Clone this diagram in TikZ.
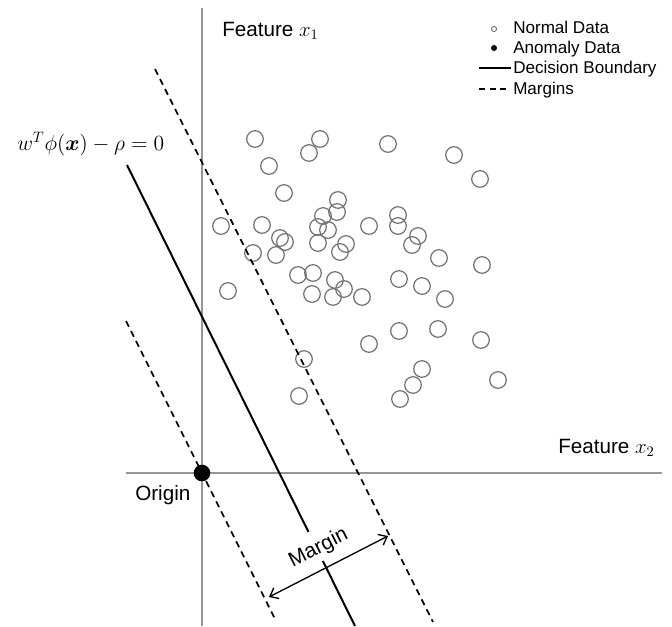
\RequirePackage{fix-cm}
\documentclass[tikz,border=0pt]{standalone}
\usepackage{amsmath}
\usepackage{amssymb}
\usepackage[no-math]{fontspec}
\setmainfont{Liberation Sans}
\usetikzlibrary{arrows.meta,calc}
\definecolor{axisgray}{RGB}{150,150,150}
\definecolor{datagray}{RGB}{115,115,115}
\tikzset{
  axisline/.style={axisgray, line width=1.1pt},
  datapt/.style={datagray, line width=0.9pt},
  boundary/.style={black, line width=1.5pt},
  marginline/.style={black, line width=1.3pt, dash pattern=on 4.8pt off 3.6pt},
  marginarrow/.style={black, line width=1pt, {Straight Barb[length=5.5pt,width=9pt]}-{Straight Barb[length=5.5pt,width=9pt]}},
  lbl/.style={font=\fontsize{15.5}{18}\selectfont, inner sep=0pt},
  legendtxt/.style={font=\fontsize{12.8}{15}\selectfont, inner sep=0pt, anchor=base west},
}
\begin{document}
\begin{tikzpicture}[x=0.75pt,y=-0.75pt]
    \useasboundingbox (0,0) rectangle (672,626);

    % axes
    \coordinate (x1top) at (202,8);
    \coordinate (x1bot) at (202,626);
    \coordinate (x2left) at (126,473);
    \coordinate (x2right) at (662,473);
    \draw [axisline] (x1top) -- (x1bot);
    \draw [axisline] (x2left) -- (x2right);

    % axis labels
    \node [lbl, anchor=base west] (featx1) at (222,36) {Feature $x_1$};
    \node [lbl, anchor=base west] (featx2) at (558,453) {Feature $x_2$};
    \node [lbl, anchor=base west] (originlbl) at (135,500) {Origin};
    \node [lbl, anchor=base west, font=\fontsize{16.2}{19}\selectfont] (eqn) at (17,150) {$w^T\phi(\boldsymbol{x})-\rho=0$};

    % normal data
    \draw [datapt] (255,139) circle [radius=8.3];
    \draw [datapt] (320,139) circle [radius=8.3];
    \draw [datapt] (309,153) circle [radius=8.3];
    \draw [datapt] (388,144) circle [radius=8.3];
    \draw [datapt] (454,155) circle [radius=8.3];
    \draw [datapt] (269,166) circle [radius=8.3];
    \draw [datapt] (480,179) circle [radius=8.3];
    \draw [datapt] (284,193) circle [radius=8.3];
    \draw [datapt] (338,200) circle [radius=8.3];
    \draw [datapt] (337,212) circle [radius=8.3];
    \draw [datapt] (323,216) circle [radius=8.3];
    \draw [datapt] (318,227) circle [radius=8.3];
    \draw [datapt] (328,230) circle [radius=8.3];
    \draw [datapt] (221,226) circle [radius=8.3];
    \draw [datapt] (262,225) circle [radius=8.3];
    \draw [datapt] (369,226) circle [radius=8.3];
    \draw [datapt] (398,215) circle [radius=8.3];
    \draw [datapt] (398,226) circle [radius=8.3];
    \draw [datapt] (418,236) circle [radius=8.3];
    \draw [datapt] (412,245) circle [radius=8.3];
    \draw [datapt] (280,238) circle [radius=8.3];
    \draw [datapt] (285,242) circle [radius=8.3];
    \draw [datapt] (318,243) circle [radius=8.3];
    \draw [datapt] (346,244) circle [radius=8.3];
    \draw [datapt] (340,252) circle [radius=8.3];
    \draw [datapt] (253,253) circle [radius=8.3];
    \draw [datapt] (276,255) circle [radius=8.3];
    \draw [datapt] (439,258) circle [radius=8.3];
    \draw [datapt] (482,265) circle [radius=8.3];
    \draw [datapt] (298,275) circle [radius=8.3];
    \draw [datapt] (313,273) circle [radius=8.3];
    \draw [datapt] (335,280) circle [radius=8.3];
    \draw [datapt] (399,279) circle [radius=8.3];
    \draw [datapt] (422,286) circle [radius=8.3];
    \draw [datapt] (228,291) circle [radius=8.3];
    \draw [datapt] (312,294) circle [radius=8.3];
    \draw [datapt] (344,289) circle [radius=8.3];
    \draw [datapt] (333,297) circle [radius=8.3];
    \draw [datapt] (362,297) circle [radius=8.3];
    \draw [datapt] (445,299) circle [radius=8.3];
    \draw [datapt] (399,331) circle [radius=8.3];
    \draw [datapt] (438,329) circle [radius=8.3];
    \draw [datapt] (369,344) circle [radius=8.3];
    \draw [datapt] (481,340) circle [radius=8.3];
    \draw [datapt] (304,359) circle [radius=8.3];
    \draw [datapt] (422,369) circle [radius=8.3];
    \draw [datapt] (413,385) circle [radius=8.3];
    \draw [datapt] (498,380) circle [radius=8.3];
    \draw [datapt] (299,396) circle [radius=8.3];
    \draw [datapt] (400,399) circle [radius=8.3];

    % margins
    \coordinate (mlefttop) at (126,321);
    \coordinate (mleftbot) at (276,621);
    \coordinate (mrighttop) at (155,69);
    \coordinate (mrightbot) at (433,622);
    \draw [marginline] (mlefttop) -- (mleftbot);
    \draw [marginline] (mrighttop) -- (mrightbot);

    % decision boundary, broken at the label
    \coordinate (dbtop) at (127,165);
    \coordinate (dbbot) at (355,626);
    \draw [boundary] (dbtop) -- ($(dbtop)!0.796!(dbbot)$);
    \draw [boundary] ($(dbtop)!0.859!(dbbot)$) -- (dbbot);

    % origin
    \node [circle, fill=black, minimum size=12.5pt, inner sep=0pt] (origin) at (202,473) {};

    % margin width
    \coordinate (marrowl) at (269,597);
    \coordinate (marrowr) at (388,536);
    \draw [marginarrow] (marrowl) -- (marrowr);
    \node [lbl, rotate=27, anchor=base] (marginlbl) at (321,553) {Margin};

    % legend
    \node [circle, draw=datagray, line width=0.7pt, minimum size=3.9pt, inner sep=0pt] (legnormal) at (494,29) {};
    \node [legendtxt] (legnormaltxt) at (513,33.5) {Normal Data};
    \node [circle, fill=black, minimum size=4.5pt, inner sep=0pt] (leganom) at (494,48) {};
    \node [legendtxt] (leganomtxt) at (513,53.5) {Anomaly Data};
    \coordinate (legsolidl) at (479,68);
    \coordinate (legsolidr) at (511,68);
    \draw [black, line width=1.1pt] (legsolidl) -- (legsolidr);
    \node [legendtxt] (legsolidtxt) at (513,73.5) {Decision Boundary};
    \coordinate (legdashl) at (479,89);
    \coordinate (legdashr) at (511,89);
    \draw [black, line width=1pt, dash pattern=on 4.5pt off 3.5pt] (legdashl) -- (legdashr);
    \node [legendtxt] (legdashtxt) at (513,94) {Margins};
\end{tikzpicture}
\end{document}
